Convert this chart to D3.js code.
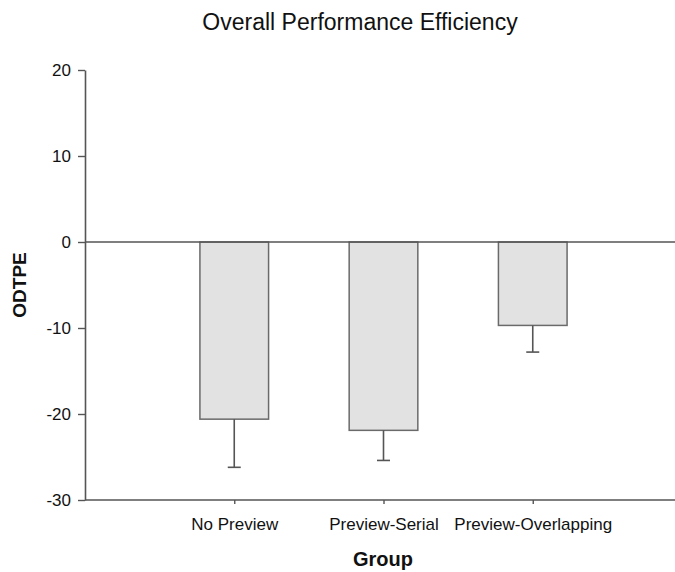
<!DOCTYPE html>
<html>
<head>
<meta charset="utf-8">
<script src="https://cdn.jsdelivr.net/npm/d3@7/dist/d3.min.js"></script>
<style>
  html, body { margin: 0; padding: 0; background: #fff; }
  svg { display: block; font-family: "Liberation Sans", Arial, sans-serif; }
</style>
</head>
<body>
<svg id="chart" width="675" height="572"></svg>
<script>
// Group means and standard errors (error bar drawn below each mean)
const groups = ["No Preview", "Preview-Serial", "Preview-Overlapping"];
const means = [-20.6, -21.9, -9.7];
const errors = [5.6, 3.5, 3.1];
const yTicks = [-30, -20, -10, 0, 10, 20];

(function () {
  const svg = d3.select("#chart");
  const W = 675;
  const plotLeft = 85, plotRight = 682, plotTop = 70, plotBottom = 500;

  const x = d3.scalePoint().domain(groups).range([plotLeft, plotRight]).padding(1);
  const y = d3.scaleLinear().domain([-30, 20]).range([plotBottom, plotTop]);
  const barW = x.step() * 0.46;
  const axisColor = "#555";

  // Title
  svg.append("text")
    .attr("x", 360).attr("y", 30)
    .attr("text-anchor", "middle")
    .attr("font-size", 23)
    .attr("fill", "#111")
    .text("Overall Performance Efficiency");

  // Bars
  svg.append("g").selectAll("rect")
    .data(groups)
    .join("rect")
    .attr("x", d => x(d) - barW / 2)
    .attr("y", y(0))
    .attr("width", barW)
    .attr("height", (d, i) => y(means[i]) - y(0))
    .attr("fill", "#e2e2e2")
    .attr("stroke", "#6a6a6a")
    .attr("stroke-width", 1.5);

  // Error bars
  const eb = svg.append("g").attr("stroke", axisColor).attr("stroke-width", 1.6);
  groups.forEach((g, i) => {
    const cx = x(g);
    eb.append("line")
      .attr("x1", cx).attr("x2", cx)
      .attr("y1", y(means[i])).attr("y2", y(means[i] - errors[i]));
    eb.append("line")
      .attr("x1", cx - 6.5).attr("x2", cx + 6.5)
      .attr("y1", y(means[i] - errors[i])).attr("y2", y(means[i] - errors[i]));
  });

  // Zero reference line
  svg.append("line")
    .attr("x1", plotLeft).attr("x2", W)
    .attr("y1", y(0)).attr("y2", y(0))
    .attr("stroke", axisColor).attr("stroke-width", 1.6);

  // Y axis (plain hyphen for negative labels)
  const yAxis = svg.append("g")
    .attr("transform", `translate(${plotLeft},0)`)
    .call(d3.axisLeft(y).tickValues(yTicks).tickFormat(d => String(d))
      .tickSize(7).tickPadding(7).tickSizeOuter(0));
  yAxis.select(".domain").attr("stroke", axisColor).attr("stroke-width", 1.6);
  yAxis.selectAll(".tick line").attr("stroke", axisColor).attr("stroke-width", 1.4);
  yAxis.selectAll(".tick text")
    .attr("font-size", 17).attr("fill", "#111")
    .attr("font-family", "'Liberation Sans', Arial, sans-serif");

  // X axis
  const xAxis = svg.append("g")
    .attr("transform", `translate(0,${plotBottom})`)
    .call(d3.axisBottom(x).tickSize(4).tickPadding(14).tickSizeOuter(0));
  xAxis.select(".domain").attr("d", `M${plotLeft},0H${W}`)
    .attr("stroke", axisColor).attr("stroke-width", 1.6);
  xAxis.selectAll(".tick line").attr("stroke", axisColor).attr("stroke-width", 1.4);
  xAxis.selectAll(".tick text")
    .attr("font-size", 17).attr("fill", "#111")
    .attr("font-family", "'Liberation Sans', Arial, sans-serif");

  // Axis titles
  svg.append("text")
    .attr("x", 383).attr("y", 566)
    .attr("text-anchor", "middle")
    .attr("font-size", 20).attr("font-weight", "bold")
    .attr("fill", "#111")
    .text("Group");

  svg.append("text")
    .attr("transform", "translate(26,285) rotate(-90)")
    .attr("text-anchor", "middle")
    .attr("font-size", 19).attr("font-weight", "bold")
    .attr("fill", "#111")
    .text("ODTPE");
})();
</script>
</body>
</html>
